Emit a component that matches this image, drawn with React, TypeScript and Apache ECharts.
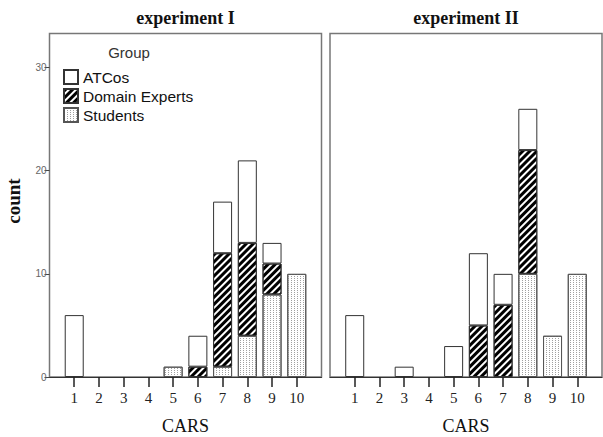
import React, { useEffect, useRef } from "react";
import * as echarts from "echarts";

const categories = ["0", "1", "2", "3", "4", "5", "6", "7", "8", "9", "10", "11"];
const shownCategories = ["1", "2", "3", "4", "5", "6", "7", "8", "9", "10"];
const yTicks = [0, 10, 20, 30];
const groups = ["ATCos", "Domain Experts", "Students"];
const panelTitles = ["experiment I", "experiment II"];

// counts per CARS score 1..10
const exp1Students = [0, 0, 0, 0, 1, 0, 1, 4, 8, 10];
const exp1Experts = [0, 0, 0, 0, 0, 1, 11, 9, 3, 0];
const exp1ATCos = [6, 0, 0, 0, 0, 3, 5, 8, 2, 0];
const exp2Students = [0, 0, 0, 0, 0, 0, 0, 10, 4, 10];
const exp2Experts = [0, 0, 0, 0, 0, 5, 7, 12, 0, 0];
const exp2ATCos = [6, 0, 1, 0, 3, 7, 3, 4, 0, 0];

const SERIF = "'Liberation Serif', 'Times New Roman', serif";
const SANS = "'Liberation Sans', Arial, sans-serif";

function pad(vals: number[]) {
  return ["-", ...vals.map((v) => (v === 0 ? "-" : v)), "-"];
}

const styles: Record<string, any> = {
  ATCos: { color: "#ffffff", borderColor: "#333", borderWidth: 1 },
  "Domain Experts": {
    color: "#ffffff",
    borderColor: "#333",
    borderWidth: 1,
    decal: {
      symbol: "rect",
      symbolSize: 1,
      color: "#000000",
      backgroundColor: "#ffffff",
      dashArrayX: [1, 0],
      dashArrayY: [3, 2],
      rotation: -Math.PI / 4,
    },
  },
  Students: {
    color: "#ffffff",
    borderColor: "#555",
    borderWidth: 1,
    decal: {
      symbol: "rect",
      symbolSize: 1,
      color: "#a0a0a0",
      backgroundColor: "#ffffff",
      dashArrayX: [1, 2],
      dashArrayY: [1, 1],
      rotation: 0,
    },
  },
};

export default function App() {
  const ref = useRef<HTMLDivElement>(null);
  useEffect(() => {
    if (!ref.current) return;
    const chart = echarts.init(ref.current, undefined, { renderer: "svg" });
    const grids = [
      { left: 49.5, top: 33.5, width: 272, height: 343.5 },
      { left: 330, top: 33.5, width: 272, height: 343.5 },
    ];
    const xAxis = [0, 1].map((i) => ({
      type: "category",
      gridIndex: i,
      data: categories,
      boundaryGap: false,
      axisLine: { show: true, onZero: false, lineStyle: { color: "#333", width: 1 } },
      axisTick: {
        show: true,
        length: 10,
        interval: (idx: number) => idx >= 1 && idx <= shownCategories.length,
        lineStyle: { color: "#222", width: 1.5 },
      },
      axisLabel: {
        interval: (idx: number) => idx >= 1 && idx <= shownCategories.length,
        formatter: (v: string) => (shownCategories.includes(v) ? v : ""),
        margin: 13,
        fontFamily: SERIF,
        fontSize: 15,
        color: "#222",
      },
      name: "CARS",
      nameLocation: "middle",
      nameGap: 40,
      nameTextStyle: { fontFamily: SERIF, fontSize: 18, color: "#111" },
      splitLine: { show: false },
    }));
    const yAxis = [0, 1].map((i) => ({
      type: "value",
      gridIndex: i,
      min: 0,
      max: 33.3,
      interval: 10,
      axisLine: { show: false },
      axisTick: {
        show: i === 0,
        length: 5,
        customValues: yTicks,
        lineStyle: { color: "#444" },
      },
      axisLabel: {
        show: i === 0,
        customValues: yTicks,
        margin: 3,
        fontFamily: SANS,
        fontSize: 10,
        color: "#666",
      },
      splitLine: { show: false },
    }));
    const panels = [
      { ATCos: exp1ATCos, "Domain Experts": exp1Experts, Students: exp1Students },
      { ATCos: exp2ATCos, "Domain Experts": exp2Experts, Students: exp2Students },
    ];
    const series: any[] = [];
    panels.forEach((p: any, i) => {
      ["Students", "Domain Experts", "ATCos"].forEach((g) => {
        series.push({
          type: "bar",
          name: g,
          xAxisIndex: i,
          yAxisIndex: i,
          stack: "s" + i,
          barWidth: 19,
          data: pad(p[g]),
          itemStyle: styles[g],
          emphasis: { disabled: true },
        });
      });
    });
    chart.setOption({
      animation: false,
      aria: { enabled: false },
      grid: grids.map((g) => ({
        ...g,
        show: true,
        outerBoundsMode: "none",
        containLabel: false,
        borderColor: "#777",
        borderWidth: 1.5,
        backgroundColor: "transparent",
      })),
      xAxis,
      yAxis,
      legend: {
        data: groups,
        orient: "vertical",
        left: 63,
        top: 69,
        padding: 0,
        itemWidth: 14,
        itemHeight: 14,
        itemGap: 3,
        icon: "rect",
        selectedMode: false,
        textStyle: { fontFamily: SANS, fontSize: 15.5, lineHeight: 16, color: "#111" },
      },
      graphic: [
        {
          type: "text",
          x: 185.5,
          y: 18,
          style: {
            text: panelTitles[0],
            font: "bold 18px " + SERIF,
            fill: "#111",
            align: "center",
            verticalAlign: "middle",
          },
        },
        {
          type: "text",
          x: 466,
          y: 18,
          style: {
            text: panelTitles[1],
            font: "bold 18px " + SERIF,
            fill: "#111",
            align: "center",
            verticalAlign: "middle",
          },
        },
        {
          type: "text",
          x: 13,
          y: 201,
          rotation: Math.PI / 2,
          style: {
            text: "count",
            font: "bold 19px " + SERIF,
            fill: "#111",
            align: "center",
            verticalAlign: "middle",
          },
        },
        {
          type: "text",
          x: 129,
          y: 52,
          style: {
            text: "Group",
            font: "15px " + SANS,
            fill: "#333",
            align: "center",
            verticalAlign: "middle",
          },
        },
      ],
      series,
    });
    return () => chart.dispose();
  }, []);
  return (
    <div
      ref={ref}
      style={{ position: "fixed", left: 0, top: 0, width: 603, height: 437, background: "#fff" }}
    />
  );
}
